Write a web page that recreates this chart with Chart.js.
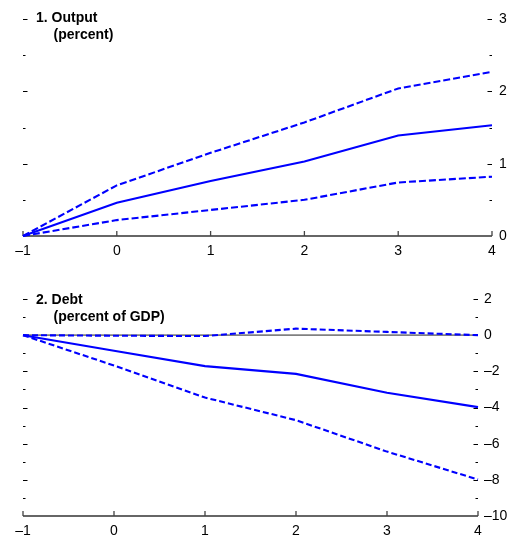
<!DOCTYPE html>
<html>
<head>
<meta charset="utf-8">
<script src="https://cdn.jsdelivr.net/npm/chart.js@4"></script>
<style>
  html, body { margin: 0; padding: 0; background: #fff; }
  #wrap { position: relative; width: 520px; height: 539px; overflow: hidden; }
  canvas { position: absolute; left: 0; }
</style>
</head>
<body>
<div id="wrap">
  <canvas id="c1" width="520" height="262" style="top:0"></canvas>
  <canvas id="c2" width="520" height="277" style="top:262px"></canvas>
</div>
<script>
// ---- data ----
const years = [-1, 0, 1, 2, 3, 4];

const outputMean  = [0, 0.46, 0.76, 1.03, 1.39, 1.53];
const outputUpper = [0, 0.70, 1.15, 1.57, 2.04, 2.27];
const outputLower = [0, 0.22, 0.36, 0.50, 0.74, 0.82];

const debtMean  = [0, -0.86, -1.71, -2.14, -3.18, -3.98];
const debtUpper = [0, -0.03, -0.05, 0.36, 0.18, 0.00];
const debtLower = [0, -1.68, -3.45, -4.70, -6.44, -7.98];

const outputTickLabels = [0, 1, 2, 3];
const outputTickMarks  = [0.5, 1, 1.5, 2, 2.5, 3];
const debtTickLabels   = [2, 0, -2, -4, -6, -8, -10];
const debtTickMarks    = [2, 1, 0, -1, -2, -3, -4, -5, -6, -7, -8, -9];

const outputTitle = ['1. Output', '(percent)'];
const debtTitle   = ['2. Debt', '(percent of GDP)'];

// ---- helpers ----
const FONT = '"Liberation Sans", Arial, Helvetica, sans-serif';
const BLUE = '#0000ff';
const fmt = v => (v < 0 ? '\u2013' + Math.abs(v) : String(v));
const pts = arr => years.map((x, i) => ({ x: x, y: arr[i] }));

function series(arr, dashed, dash) {
  return {
    data: pts(arr),
    borderColor: BLUE,
    borderWidth: 2.1,
    borderDash: dashed ? dash : [],
    pointRadius: 0,
    tension: 0,
    fill: false,
    clip: false
  };
}

function framePlugin(o) {
  return {
    id: 'frame',
    beforeDatasetsDraw(chart) {
      const ctx = chart.ctx, a = chart.chartArea;
      const xs = chart.scales.x, ys = chart.scales.y;
      ctx.save();
      if (o.zeroLine) {
        const py = ys.getPixelForValue(0);
        ctx.strokeStyle = '#808080';
        ctx.lineWidth = 1.6;
        ctx.beginPath();
        ctx.moveTo(a.left, py);
        ctx.lineTo(a.right, py);
        ctx.stroke();
      }
      // x axis line
      ctx.strokeStyle = '#333';
      ctx.lineWidth = 1.5;
      ctx.beginPath();
      ctx.moveTo(a.left, a.bottom);
      ctx.lineTo(a.right, a.bottom);
      ctx.stroke();
      // x ticks (inward)
      ctx.lineWidth = 1.3;
      ctx.strokeStyle = '#444';
      ctx.beginPath();
      years.forEach(v => {
        const px = xs.getPixelForValue(v);
        ctx.moveTo(px, a.bottom);
        ctx.lineTo(px, a.bottom - 5);
      });
      ctx.stroke();
      // y tick marks, both sides, inward
      ctx.strokeStyle = '#000';
      ctx.lineWidth = 1.2;
      ctx.beginPath();
      o.marks.forEach(v => {
        const py = Math.round(ys.getPixelForValue(v)) + 0.5;
        const len = o.labels.includes(v) ? 4.5 : 2.5;
        ctx.moveTo(a.left, py);
        ctx.lineTo(a.left + len, py);
        ctx.moveTo(a.right - len, py);
        ctx.lineTo(a.right, py);
      });
      ctx.stroke();
      // panel titles
      ctx.fillStyle = '#000';
      ctx.font = 'bold 14px ' + FONT;
      ctx.textAlign = 'left';
      ctx.textBaseline = 'alphabetic';
      ctx.fillText(o.title[0], 36, o.titleY[0]);
      ctx.fillText(o.title[1], 53.5, o.titleY[1]);
      ctx.restore();
    }
  };
}

function makeChart(id, sets, yMin, yMax, labels, marks, title, titleY, pad, yWidth, xHeight, yPad, zeroLine) {
  return new Chart(document.getElementById(id), {
    type: 'line',
    data: { datasets: sets },
    options: {
      responsive: false,
      animation: false,
      devicePixelRatio: 1,
      layout: { padding: pad },
      plugins: { legend: { display: false }, tooltip: { enabled: false }, title: { display: false } },
      scales: {
        x: {
          type: 'linear', position: 'bottom', min: -1, max: 4,
          afterBuildTicks: s => { s.ticks = years.map(v => ({ value: v })); },
          afterFit: s => { s.height = xHeight; },
          grid: { display: false, drawTicks: false },
          border: { display: false },
          ticks: { padding: 7, color: '#000', font: { family: FONT, size: 14 }, callback: v => fmt(v), maxRotation: 0, autoSkip: false }
        },
        y: {
          type: 'linear', position: 'right', min: yMin, max: yMax,
          afterBuildTicks: s => { s.ticks = labels.map(v => ({ value: v })); },
          afterFit: s => { s.width = yWidth; },
          grid: { display: false, drawTicks: false },
          border: { display: false },
          ticks: { padding: yPad, color: '#000', font: { family: FONT, size: 14 }, callback: v => fmt(v), autoSkip: false }
        }
      }
    },
    plugins: [framePlugin({ labels, marks, title, titleY, zeroLine })]
  });
}

makeChart('c1',
  [series(outputUpper, true, [7, 3]), series(outputLower, true, [7, 3]), series(outputMean, false)],
  0, 3, outputTickLabels, outputTickMarks, outputTitle, [21.5, 38.5],
  { left: 23, top: 19, right: 0, bottom: 0 }, 28, 26, 7, false);

makeChart('c2',
  [series(debtUpper, true, [6, 3]), series(debtLower, true, [6, 3]), series(debtMean, false)],
  -10, 2, debtTickLabels, debtTickMarks, debtTitle, [42, 59],
  { left: 23, top: 37, right: 0, bottom: 0 }, 42, 23, 6, true);
</script>
</body>
</html>
